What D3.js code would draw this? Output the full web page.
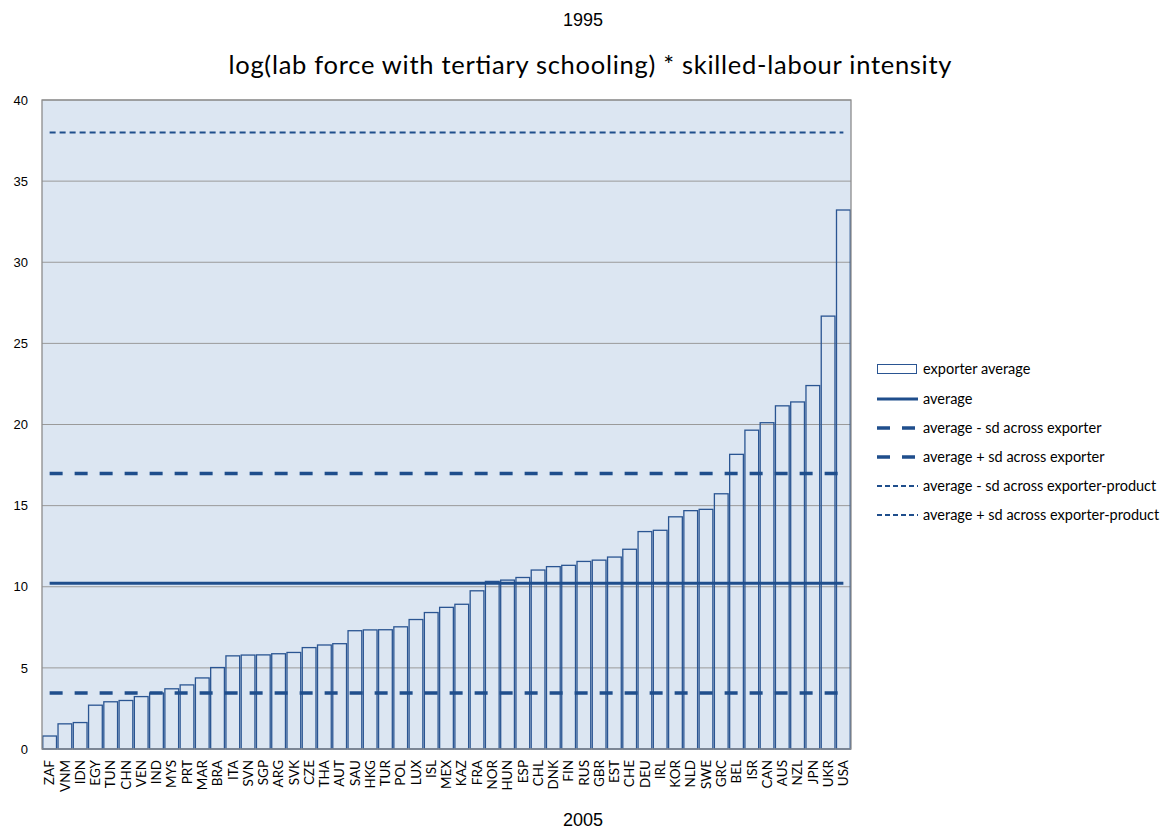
<!DOCTYPE html>
<html><head><meta charset="utf-8">
<script src="https://cdn.jsdelivr.net/npm/d3@7"></script>
<style>body{margin:0;background:#fff}</style>
</head><body>
<svg id="c" width="1175" height="831"></svg>
<script>
const categories = ["ZAF","VNM","IDN","EGY","TUN","CHN","VEN","IND","MYS","PRT","MAR","BRA","ITA","SVN","SGP","ARG","SVK","CZE","THA","AUT","SAU","HKG","TUR","POL","LUX","ISL","MEX","KAZ","FRA","NOR","HUN","ESP","CHL","DNK","FIN","RUS","GBR","EST","CHE","DEU","IRL","KOR","NLD","SWE","GRC","BEL","ISR","CAN","AUS","NZL","JPN","UKR","USA"];
const exporterAverage = [0.8,1.55,1.63,2.7,2.91,2.99,3.23,3.45,3.71,3.95,4.38,5.02,5.74,5.79,5.8,5.87,5.95,6.25,6.41,6.49,7.29,7.34,7.35,7.53,7.98,8.41,8.73,8.92,9.75,10.33,10.41,10.57,11.03,11.24,11.32,11.56,11.64,11.83,12.31,13.4,13.48,14.31,14.69,14.77,15.73,18.16,19.65,20.11,21.15,21.39,22.4,26.68,33.22];
const average = 10.22;
const avgMinusSdExporter = 3.45;
const avgPlusSdExporter = 16.98;
const avgMinusSdExporterProduct = -17.56;
const avgPlusSdExporterProduct = 38.0;
const yTicks = [0,5,10,15,20,25,30,35,40];
const legendLabels = ["exporter average","average","average - sd across exporter","average + sd across exporter","average - sd across exporter-product","average + sd across exporter-product"];

const svg = d3.select("#c");
const L = 42, R = 851, T = 100, B = 749;
const x = d3.scaleBand().domain(categories).range([L, R]).paddingInner(0.1).paddingOuter(0.05);
const y = d3.scaleLinear().domain([0, 40]).range([B, T]);
const blue = "#1f4e8c";

svg.append("rect").attr("x", L).attr("y", T).attr("width", R - L).attr("height", B - T).attr("fill", "#dce6f2");
svg.append("g").selectAll("line").data(yTicks).join("line")
  .attr("x1", L).attr("x2", R).attr("y1", d => y(d)).attr("y2", d => y(d))
  .attr("stroke", "#9a9a9a").attr("stroke-width", 1);

const yAx = svg.append("g").attr("transform", `translate(${L},0)`)
  .call(d3.axisLeft(y).tickValues(yTicks).tickSize(0).tickPadding(14));
yAx.select(".domain").remove();
yAx.selectAll("text").attr("font-family", "Liberation Sans, Arial, sans-serif").attr("font-size", 13).attr("fill", "#000");

svg.append("clipPath").attr("id", "clip").append("rect").attr("x", L).attr("y", T).attr("width", R - L).attr("height", B - T);

svg.append("g").selectAll("rect").data(exporterAverage).join("rect")
  .attr("x", (d, i) => x(categories[i]))
  .attr("y", d => y(d))
  .attr("width", x.bandwidth())
  .attr("height", d => y(0) - y(d))
  .attr("fill", "none").attr("stroke", "#2a5592").attr("stroke-width", 1.3);

const xc = c => x(c) + x.bandwidth() / 2;
const lines = [
  {v: avgMinusSdExporterProduct, w: 2, dash: "6,4"},
  {v: avgPlusSdExporterProduct, w: 2, dash: "6,4"},
  {v: avgMinusSdExporter, w: 3.5, dash: "13,12"},
  {v: avgPlusSdExporter, w: 3.5, dash: "13,12"},
  {v: average, w: 3, dash: null}
];
const lg = svg.append("g").attr("clip-path", "url(#clip)");
lines.forEach(l => {
  const ln = lg.append("line")
    .attr("x1", xc(categories[0])).attr("x2", xc(categories[categories.length - 1]))
    .attr("y1", y(l.v)).attr("y2", y(l.v))
    .attr("stroke", blue).attr("stroke-width", l.w);
  if (l.dash) ln.attr("stroke-dasharray", l.dash);
});

svg.append("rect").attr("x", L).attr("y", T).attr("width", R - L).attr("height", B - T)
  .attr("fill", "none").attr("stroke", "#8c8c8c").attr("stroke-width", 1.3);

const xAx = svg.append("g").attr("transform", `translate(0,${B})`)
  .call(d3.axisBottom(x).tickSize(0));
xAx.select(".domain").remove();
xAx.selectAll("text")
  .attr("font-family", "Lato, 'Open Sans', sans-serif").attr("font-size", 13.5).attr("fill", "#000")
  .attr("text-anchor", "end").attr("dy", "0.35em")
  .attr("transform", d => `translate(0,11) rotate(-90)`).attr("x", 0).attr("y", 0);

svg.append("text").attr("x", 583).attr("y", 26).attr("text-anchor", "middle")
  .attr("font-family", "Liberation Sans, Arial, sans-serif").attr("font-size", 18).text("1995");
svg.append("text").attr("x", 583).attr("y", 826).attr("text-anchor", "middle")
  .attr("font-family", "Liberation Sans, Arial, sans-serif").attr("font-size", 18).text("2005");
svg.append("text").attr("x", 590).attr("y", 74).attr("text-anchor", "middle")
  .attr("font-family", "Lato, 'Open Sans', sans-serif").attr("font-size", 25.5)
  .attr("textLength", 723).attr("lengthAdjust", "spacing")
  .text("log(lab force with tertiary schooling) * skilled-labour intensity");

const legY = [369, 399, 428, 457, 486, 515];
const leg = svg.append("g");
legendLabels.forEach((t, i) => {
  const yy = legY[i];
  if (i === 0) {
    leg.append("rect").attr("x", 877.5).attr("y", yy - 4.5).attr("width", 39).attr("height", 9)
      .attr("fill", "#fff").attr("stroke", "#2a5592").attr("stroke-width", 1);
  } else {
    const st = [null, {w: 3, d: null}, {w: 3.5, d: "13,12"}, {w: 3.5, d: "13,12"}, {w: 2, d: "5,3"}, {w: 2, d: "5,3"}][i];
    const ln = leg.append("line").attr("x1", 877).attr("x2", 918).attr("y1", yy).attr("y2", yy)
      .attr("stroke", blue).attr("stroke-width", st.w);
    if (st.d) ln.attr("stroke-dasharray", st.d);
  }
  leg.append("text").attr("x", 923).attr("y", yy).attr("dy", "0.35em")
    .attr("font-family", "Lato, 'Open Sans', sans-serif").attr("font-size", 14.5).text(t);
});
</script>
</body></html>
